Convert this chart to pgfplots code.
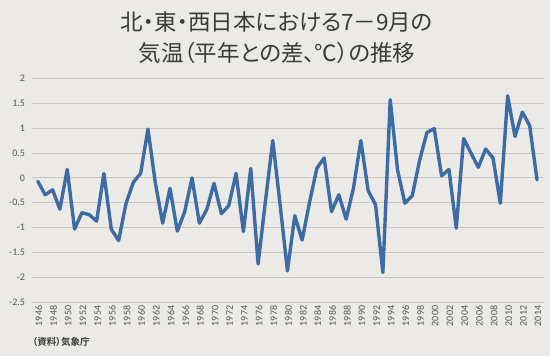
\documentclass[border=0pt]{standalone}
\usepackage{pgfplots}
\pgfplotsset{compat=1.18}
\usepackage{fontspec}
\setmainfont{Carlito}
\newfontfamily\cjk[RawFeature={+palt}]{Noto Sans CJK JP}
\newfontfamily\cjkb[RawFeature={+palt}]{Noto Sans CJK JP Bold}
\definecolor{bg}{HTML}{ECEAE7}
\definecolor{linec}{HTML}{3D6CA5}
\definecolor{gridc}{HTML}{C8C6C3}
\definecolor{tickc}{HTML}{555555}
\definecolor{titlec}{HTML}{3A3A3A}
\begin{document}
\begin{tikzpicture}
\fill[bg] (0pt,0pt) rectangle (550pt,356pt);
\node[text=titlec, font={\cjk\fontsize{22.5}{22.5}\selectfont}] at (277pt,334pt) {北・東・西日本における7－9月の};
\node[text=titlec, font={\cjk\fontsize{22.5}{22.5}\selectfont}] at (277pt,303pt) {気温（平年との差、℃）の推移};
\node[anchor=west, text=titlec, font={\cjkb\fontsize{9.5}{9.5}\selectfont}] at (29pt,14pt) {（資料）気象庁};
\begin{axis}[
  at={(32pt,53.7pt)}, anchor=south west,
  scale only axis, width=512pt, height=224pt,
  xmin=1945.2, xmax=2014.95,
  ymin=-2.5, ymax=2,
  ytick={-2.5,-2,...,2},
  xtick={1946,1948,...,2014},
  major tick length=0pt,
  axis line style={draw=none},
  ymajorgrids, grid style={gridc, line width=0.9pt},
  /pgf/number format/assume math mode=true,
  /pgf/number format/1000 sep={},
  yticklabel style={font=\fontsize{10}{10}\selectfont, text=tickc, xshift=-3.5pt},
  xticklabel style={font=\fontsize{10}{10}\selectfont, text=tickc, rotate=90, anchor=east, yshift=-1pt},
  clip=false,
]
\addplot[linec, line width=3.4pt, line join=round, line cap=round] coordinates {
(1946,-0.07) (1947,-0.34) (1948,-0.24) (1949,-0.63) (1950,0.17)
(1951,-1.03) (1952,-0.70) (1953,-0.74) (1954,-0.87) (1955,0.09)
(1956,-1.03) (1957,-1.26) (1958,-0.52) (1959,-0.09) (1960,0.09)
(1961,0.98) (1962,-0.10) (1963,-0.91) (1964,-0.21) (1965,-1.07)
(1966,-0.68) (1967,0.00) (1968,-0.91) (1969,-0.64) (1970,-0.11)
(1971,-0.72) (1972,-0.56) (1973,0.09) (1974,-1.08) (1975,0.19)
(1976,-1.73) (1977,-0.47) (1978,0.75) (1979,-0.54) (1980,-1.87)
(1981,-0.76) (1982,-1.25) (1983,-0.50) (1984,0.19) (1985,0.40)
(1986,-0.68) (1987,-0.34) (1988,-0.83) (1989,-0.20) (1990,0.75)
(1991,-0.26) (1992,-0.54) (1993,-1.90) (1994,1.57) (1995,0.16)
(1996,-0.51) (1997,-0.36) (1998,0.35) (1999,0.91) (2000,0.99)
(2001,0.04) (2002,0.17) (2003,-1.01) (2004,0.79) (2005,0.50)
(2006,0.21) (2007,0.58) (2008,0.40) (2009,-0.51) (2010,1.65)
(2011,0.83) (2012,1.32) (2013,1.05) (2014,-0.04)
};
\end{axis}
\end{tikzpicture}
\end{document}
